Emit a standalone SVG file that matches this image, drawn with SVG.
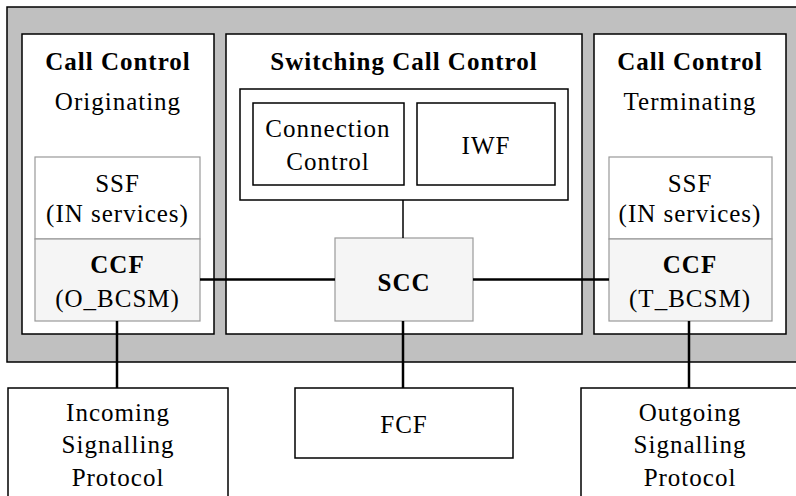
<svg xmlns="http://www.w3.org/2000/svg" width="796" height="496" viewBox="0 0 796 496">
<style>
.blk{fill:#fff;stroke:#000;stroke-width:1.5}
.sub{fill:#fff;stroke:#999;stroke-width:1.2}
.ccf{fill:#f5f5f5;stroke:#999;stroke-width:1.2}
text{font-family:"Times New Roman","Liberation Serif",Tinos,Times,serif;font-size:25px;fill:#000;text-anchor:middle;letter-spacing:1px}
.b{font-weight:bold}
.con{stroke:#000;stroke-width:2.5;fill:none}
.thin{stroke:#000;stroke-width:1.5;fill:none}
</style>
<rect id="frame" x="7" y="7" width="800" height="355" fill="#c0c0c0" stroke="#000" stroke-width="1.5"/>
<g id="cc-orig">
<rect class="blk" x="22" y="34" width="192" height="300"/>
<text class="b" x="118" y="70">Call Control</text>
<text x="118" y="110">Originating</text>
</g>
<g id="scc-panel">
<rect class="blk" x="226" y="34" width="356" height="300"/>
<text class="b" x="404" y="70">Switching Call Control</text>
<rect class="blk" x="240" y="89" width="328" height="111"/>
</g>
<g id="cc-term">
<rect class="blk" x="594" y="34" width="192" height="300"/>
<text class="b" x="690" y="70">Call Control</text>
<text x="690" y="110">Terminating</text>
</g>
<g id="conn-ctrl">
<rect class="blk" x="253" y="103" width="151" height="82"/>
<text x="328" y="137">Connection</text>
<text x="328" y="170">Control</text>
</g>
<g id="iwf">
<rect class="blk" x="417" y="103" width="138" height="82"/>
<text x="486" y="154">IWF</text>
</g>
<g id="ssf-o">
<rect class="sub" x="35" y="157" width="165" height="82"/>
<text x="117.5" y="192">SSF</text>
<text x="117.5" y="222">(IN services)</text>
</g>
<g id="ccf-o">
<rect class="ccf" x="35" y="239" width="165" height="82"/>
<text class="b" x="117.5" y="273">CCF</text>
<text x="117.5" y="307">(O_BCSM)</text>
</g>
<g id="ssf-t">
<rect class="sub" x="609" y="157" width="163" height="82"/>
<text x="690" y="192">SSF</text>
<text x="690" y="222">(IN services)</text>
</g>
<g id="ccf-t">
<rect class="ccf" x="609" y="239" width="163" height="82"/>
<text class="b" x="690" y="273">CCF</text>
<text x="690" y="307">(T_BCSM)</text>
</g>
<g id="scc">
<rect class="ccf" x="335" y="238" width="138" height="83"/>
<text class="b" x="404" y="291">SCC</text>
</g>
<g id="fcf">
<rect class="blk" x="295" y="388" width="218" height="70"/>
<text x="404" y="433">FCF</text>
</g>
<g id="isp">
<rect class="blk" x="8" y="388" width="220" height="120"/>
<text x="118" y="421">Incoming</text>
<text x="118" y="453">Signalling</text>
<text x="118" y="486">Protocol</text>
</g>
<g id="osp">
<rect class="blk" x="581" y="388" width="230" height="120"/>
<text x="690" y="421">Outgoing</text>
<text x="690" y="453">Signalling</text>
<text x="690" y="486">Protocol</text>
</g>
<g id="connectors">
<line class="con" x1="200" y1="279.5" x2="335" y2="279.5"/>
<line class="con" x1="473" y1="279.5" x2="609" y2="279.5"/>
<line class="thin" x1="403" y1="200" x2="403" y2="238"/>
<line class="con" x1="403" y1="321" x2="403" y2="388"/>
<line class="con" x1="117" y1="321" x2="117" y2="388"/>
<line class="con" x1="689" y1="321" x2="689" y2="388"/>
</g>
</svg>
